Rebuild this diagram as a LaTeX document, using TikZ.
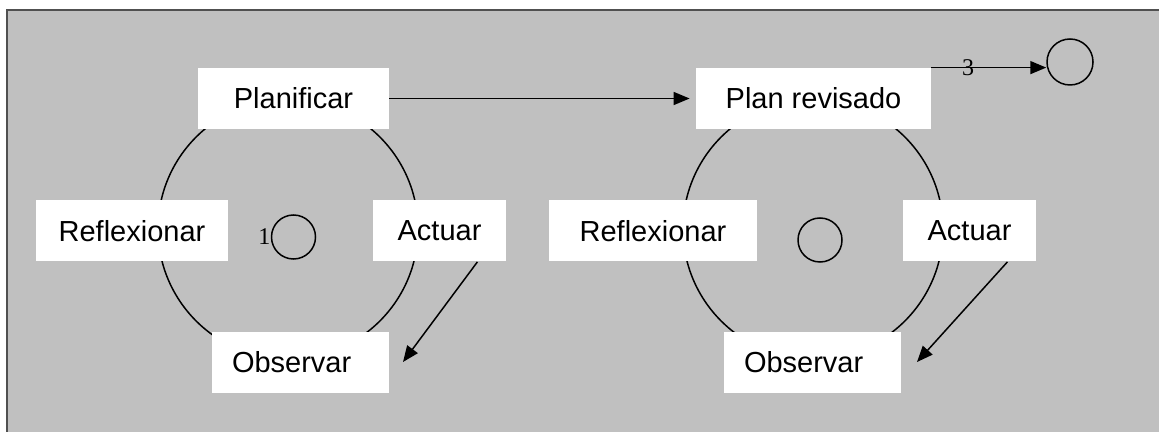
\documentclass[tikz,border=0pt]{standalone}
\usepackage{fontspec}
\setmainfont{Liberation Sans}
\newfontfamily\numfont{Liberation Serif}
\usepackage{tikz}
\usetikzlibrary{arrows.meta}

\definecolor{panelgray}{HTML}{C0C0C0}
\definecolor{framegray}{HTML}{505050}

\tikzset{
	stage/.style = {fill=white, inner sep=0pt, minimum height=30.5pt, font=\fontsize{14.5}{17}\selectfont},
	leftstage/.style = {stage, inner xsep=10pt, text width=68.5pt, align=left},
	ring/.style = {circle, draw, inner sep=0pt, minimum size=130pt, line width=0.75pt},
	dot/.style = {circle, draw, inner sep=0pt, minimum size=22pt, line width=0.75pt},
	arr/.style = {line width=0.75pt, -{Triangle[length=8pt,width=6.5pt]}},
	num/.style = {inner sep=0pt, font=\numfont\fontsize{12}{14}\selectfont}
}

\begin{document}
\begin{tikzpicture}[x=0.5pt, y=-0.5pt]
		\useasboundingbox (0,0) rectangle (1159,432);
		\fill[panelgray] (7,10) rectangle (1159,432);
		\draw[framegray, line width=1pt] (7,432) -- (7,10) -- (1159,10);

		% first cycle
		\node[ring] (c1) at (288,229) {};
		\node[dot] (s1) at (293.5,237) {};
		\node[num, anchor=east] (n1) at (s1.west) {1};
		\node[stage, minimum width=95.5pt] (plan1) at (293.5,98.5) {Planificar};
		\node[stage, minimum width=96pt] (refl1) at (132,231) {Reflexionar};
		\node[stage, minimum width=66.5pt] (act1) at (439.5,231) {Actuar};
		\node[leftstage] (obs1) at (300.5,362.5) {Observar};

		% second cycle
		\node[ring] (c2) at (813,229) {};
		\node[dot] (s2) at (820,240) {};
		\node[stage, minimum width=117.5pt] (plan2) at (813.5,98.5) {Plan revisado};
		\node[stage, minimum width=104pt] (refl2) at (653,231) {Reflexionar};
		\node[stage, minimum width=66.5pt] (act2) at (969.5,231) {Actuar};
		\node[leftstage] (obs2) at (812.5,362.5) {Observar};

		\node[dot, minimum size=23pt] (s3) at (1070,62) {};

		\coordinate (o1) at (403,362);
		\coordinate (o2) at (917,362);

		\draw[arr, shorten >=3pt] (plan1.east) -- (plan2.west);
		\draw[arr] (plan2.north east) -- (s3.west |- plan2.north east)
			node[num, pos=0.32] (n3) {3};
		\draw[arr] ([xshift=-14.5pt]act1.south east) -- (o1);
		\draw[arr] ([xshift=-14.5pt]act2.south east) -- (o2);
	\end{tikzpicture}
\end{document}
